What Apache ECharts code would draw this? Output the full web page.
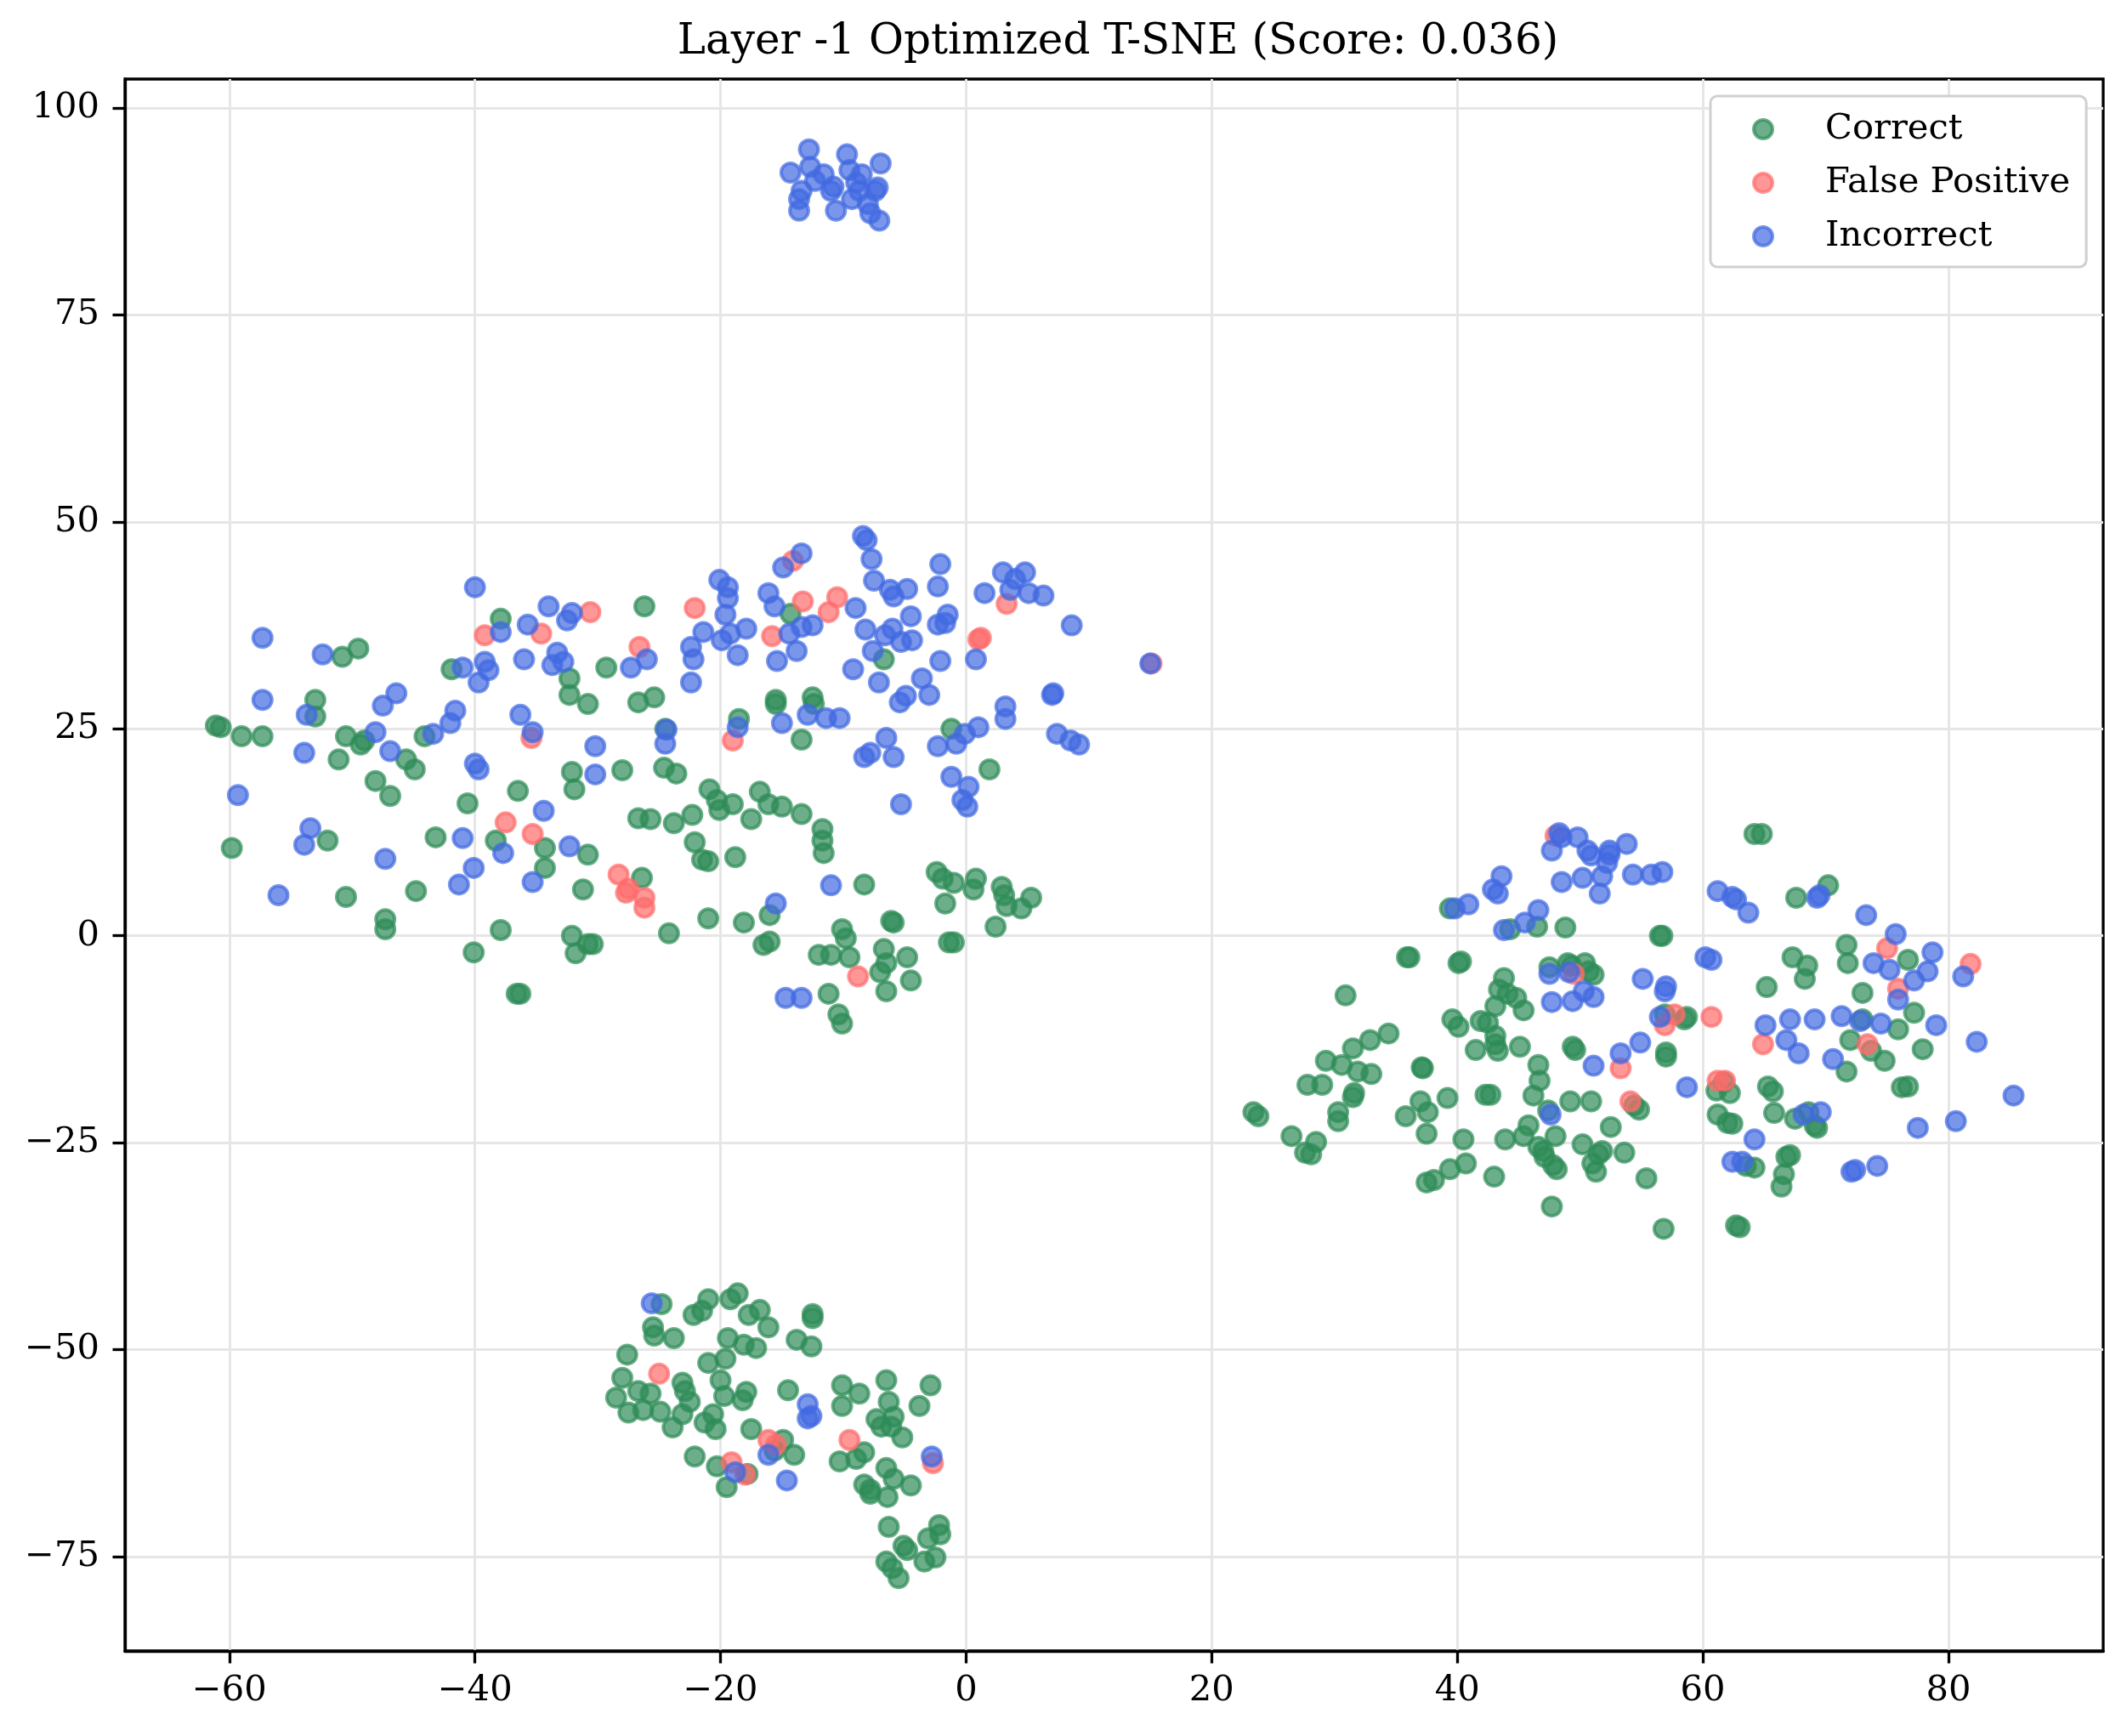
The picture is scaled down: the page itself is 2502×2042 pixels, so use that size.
<!DOCTYPE html>
<html>
<head>
<meta charset="utf-8">
<script src="https://cdn.jsdelivr.net/npm/echarts@6/dist/echarts.min.js"></script>
<style>
  html, body { margin: 0; padding: 0; background: #fff; }
  #chart { width: 2502px; height: 2042px; }
</style>
</head>
<body>
<div id="chart"></div>
<script>
// tick labels
const xTicks = [-60, -40, -20, 0, 20, 40, 60, 80];
const yTicks = [-75, -50, -25, 0, 25, 50, 75, 100];

const seriesNames = ["Correct", "False Positive", "Incorrect"];

// Correct points [x, y]
const correctPoints = [
  [-61.1,25.4],[-60.7,25.2],[-59,24.1],[-57.3,24.1],[-59.8,10.6],[-53,28.5],[-53,26.5],[-50.8,33.7],[-49.5,34.7],
  [-50.5,24.1],[-51.1,21.3],[-49.3,23.1],[-49,23.6],[-52,11.5],[-50.5,4.7],[-48.1,18.7],[-46.9,16.9],[-45.6,21.3],
  [-44.9,20.1],[-47.3,2],[-47.3,0.8],[-44.8,5.4],[-44.1,24.1],[-43.2,11.9],[-41.9,32.2],[-40.6,16],[-40.1,-2],
  [-37.9,38.3],[-38.3,11.5],[-37.9,0.7],[-36.5,17.5],[-36.3,-7],[-36.6,-7],[-34.3,10.6],[-34.3,8.2],[-32.3,31.1],
  [-32.3,29.1],[-32.1,19.8],[-31.9,17.7],[-32.1,0],[-31.8,-2.1],[-31.2,5.6],[-30.8,28],[-30.8,9.8],[-30.4,-1],
  [-30.8,-1],[-29.3,32.4],[-28,20],[-26.2,39.8],[-26.7,28.2],[-26.7,14.2],[-26.4,7],[-25.7,14.1],[-25.4,28.8],
  [-24.5,25],[-24.6,20.3],[-23.6,19.6],[-24.2,0.3],[-23.8,13.6],[-22.3,14.6],[-22.1,11.3],[-21.5,9.2],[-21,9],
  [-21,2.1],[-20.9,17.7],[-20.3,16.4],[-20.1,15.2],[-18.8,9.5],[-18.5,26.2],[-19,15.9],[-18.1,1.6],[-17.5,14.1],
  [-16.8,17.4],[-16.5,-1.1],[-16.1,15.9],[-16,-0.7],[-16,2.5],[-15.5,28.5],[-15.5,28],[-15,15.6],[-14.3,38.9],
  [-13.4,23.7],[-13.4,14.7],[-12.5,28.8],[-12.4,28],[-11.7,12.9],[-11.7,11.5],[-11.6,10],[-12,-2.3],[-11,-2.3],
  [-11.2,-7],[-10.4,-9.5],[-10.1,-10.6],[-10.1,0.8],[-9.8,-0.3],[-9.5,-2.6],[-8.3,6.2],[-6.7,33.4],[-7,-4.4],
  [-6.7,-1.6],[-6.5,-3.3],[-6.5,-6.7],[-5.9,1.6],[-6.1,1.8],[-4.8,-2.6],[-4.5,-5.4],[-2.4,7.7],[-1.9,6.9],
  [-1.7,3.9],[-1.4,-0.8],[-1,-0.8],[-1.2,25],[-1,6.4],[0.8,6.9],[0.6,5.6],[1.9,20.1],[2.4,1.1],[2.9,5.9],
  [3.1,4.9],[3.3,3.6],[4.5,3.3],[5.3,4.6],
  // bottom group
  [-28.5,-55.8],[-28,-53.4],[-27.6,-50.6],[-27.5,-57.6],[-26.7,-55],[-26.3,-57.3],[-25.7,-55.3],[-25.5,-47.3],
  [-24.8,-44.5],[-24.9,-57.5],[-25.4,-48.3],[-23.8,-48.6],[-23.1,-54],[-22.9,-55],[-23.1,-57.8],[-23.9,-59.4],
  [-22.5,-56.3],[-22.1,-62.9],[-22.2,-45.8],[-21.5,-45.3],[-21,-43.9],[-21.3,-58.8],[-20.6,-57.8],[-21,-51.6],
  [-20.4,-59.6],[-20,-53.7],[-19.6,-51.1],[-19.4,-48.6],[-19.7,-55.6],[-20.3,-64.1],[-19.5,-66.6],[-19.2,-43.9],
  [-18.6,-43.2],[-18.1,-49.4],[-18.2,-56.1],[-17.9,-55.1],[-17.8,-65],[-17.7,-45.8],[-17.1,-49.8],[-17.5,-59.6],
  [-16.8,-45.2],[-16.1,-47.3],[-15.6,-62.2],[-14.9,-60.9],[-14.5,-54.9],[-14,-62.7],[-13.8,-48.8],[-12.6,-49.6],
  [-12.5,-45.7],[-12.5,-46.2],[-10.1,-54.3],[-10.1,-56.8],[-10.3,-63.5],[-8.7,-55.3],[-8.95,-63.2],[-8.3,-62.4],
  [-8.3,-66.3],[-7.8,-67.4],[-7.8,-66.9],[-7.3,-58.4],[-6.9,-59.3],[-6.5,-53.7],[-6.3,-56.3],[-6.5,-64.3],
  [-6.4,-67.8],[-6.1,-59.3],[-5.9,-58.1],[-5.9,-65.6],[-6.3,-71.4],[-6.5,-75.6],[-6,-76.4],[-5.5,-77.6],
  [-5.2,-60.6],[-5.1,-73.7],[-4.5,-66.4],[-4.8,-74.2],[-3.8,-56.8],[-3.4,-75.6],[-3.1,-72.8],[-2.9,-54.3],
  [-2.5,-75.1],[-2.2,-71.2],[-2.1,-72.3],
  // right group
  [23.4,-21.3],[23.8,-21.8],[26.5,-24.2],[27.6,-26.2],[28.1,-26.4],[27.8,-18],[28.5,-24.9],[29,-18],[29.3,-15.1],
  [30.3,-21.3],[30.3,-22.4],[30.6,-15.6],[30.9,-7.2],[31.5,-13.6],[31.5,-19.5],[31.6,-19],[31.9,-16.4],[33,-16.7],
  [32.9,-12.6],[34.4,-11.8],[35.9,-2.6],[36.1,-2.6],[35.8,-21.8],[37.1,-15.9],[37.2,-16],[37,-20],[37.5,-23.9],
  [37.5,-29.8],[38.1,-29.5],[37.6,-21.3],[39.2,-19.6],[39.4,3.3],[39.6,-10.1],[40.1,-11],[40.1,-3.3],[40.3,-3.1],
  [39.4,-28.2],[40.5,-24.6],[40.7,-27.5],[41.5,-13.8],[41.9,-10.3],[42.3,-19.2],[42.7,-19.2],[42.5,-10.5],[43,-29.1],
  [43.1,-8.5],[43.1,-12.1],[43.3,-13.9],[43.1,-13.1],[43.4,-6.5],[43.8,-5.1],[44.1,-7],[44.3,0.8],[43.9,-24.6],
  [44.8,-7.5],[45.1,-13.4],[45.4,-9],[45.4,-24.2],[45.8,-22.9],[46.2,-19.3],[46.5,1.1],[46.6,-15.6],[46.7,-17.5],
  [46.6,-25.5],[47,-26],[47.1,-26.7],[47.4,-21.1],[47.5,-3.8],[47.7,-32.7],[47.8,-27.7],[48,-24.2],[48.1,-28.2],
  [48.8,1],[49,-3.3],[49.3,-3.6],[49.2,-20],[49.4,-13.4],[49.6,-13.8],[50.2,-25.2],[50.4,-3.3],[50.7,-4.3],
  [50.9,-20],[51.1,-4.7],[51,-27.5],[51.3,-28.5],[51.5,-26.4],[51.8,-26],[52.5,-23.1],[53.6,-26.2],[54.4,-20.5],
  [54.8,-21],[55.4,-29.3],[56.5,0],[56.7,0],[56.8,-35.4],[56.9,-9.5],[57,-14.1],[57,-14.6],[58.5,-10.1],[58.7,-9.8],
  [61.1,-18.7],[61.2,-21.6],[61.7,-17.7],[62,-22.6],[62.2,-19],[62.4,-22.7],[62.7,-35],[63,-35.2],[63.5,-27.8],
  [64.2,12.3],[64.8,12.3],[64.2,-28],[65.2,-6.2],[65.3,-18.2],[65.7,-18.8],[65.8,-21.4],[66.6,-28.8],[66.4,-30.3],
  [66.8,-26.7],[67.1,-26.5],[67.3,-2.6],[67.6,4.6],[67.5,-22.1],[68.3,-5.2],[68.5,-3.6],[68.6,-21.3],[69.1,-22.9],
  [69.3,-23.2],[70.2,6.1],[71.7,-1.1],[71.8,-3.3],[71.7,-16.4],[72,-12.6],[73,-6.9],[73,-10.1],[73.7,-13.9],
  [74.8,-15.1],[75.9,-11.3],[76.2,-18.3],[76.7,-18.2],[76.7,-2.9],[77.2,-9.3],[77.9,-13.7]
];

// False Positive points [x, y]
const falsePositivePoints = [
  [-39.2,36.3],[-37.5,13.7],[-35.4,23.9],[-35.3,12.3],[-34.6,36.5],[-30.6,39.1],[-28.3,7.4],[-27.7,5.2],[-27.5,5.7],
  [-26.2,4.6],[-26.6,34.9],[-26.2,3.4],[-22.1,39.6],[-19,23.6],[-15.8,36.2],[-14.1,45.3],[-13.3,40.4],[-11.2,39.1],
  [-10.5,40.9],[1,35.8],[1.2,36],[3.3,40.1],[15.1,32.9],[-8.8,-4.9],
  [-25,-52.9],[-19.1,-63.6],[-16.1,-60.9],[-15.5,-61.5],[-9.5,-60.9],[-2.7,-63.7],[-18,-65.1],
  [48,12.1],[49.5,-4.6],[53.3,-16],[54.1,-20],[56.9,-10.8],[57.7,-9.5],[60.7,-9.8],[61.2,-17.5],[61.8,-17.5],
  [64.9,-13.1],[73.4,-13.1],[75,-1.5],[75.9,-6.4],[81.8,-3.4]
];

// Incorrect points [x, y]
const incorrectPoints = [
  // top group
  [-14.3,92.2],[-13.4,90],[-12.8,95],[-12.7,92.9],[-13.6,89],[-13.6,87.6],[-12.3,91.2],[-11.6,92],[-11,90],
  [-10.6,87.6],[-9.7,94.4],[-9.5,92.5],[-8.95,91],[-9.3,89],[-8.5,92],[-8.7,90],[-7.8,87.3],[-6.96,93.3],
  [-7.2,90.4],[-7.4,90],[-7.07,86.4],[-8,88.4],[-10.8,90.5],
  // left group
  [-57.3,36],[-57.3,28.5],[-59.3,17],[-56,4.9],[-52.4,34],[-53.7,26.7],[-53.9,22.1],[-53.4,13],[-53.9,11],
  [-47.5,27.8],[-46.4,29.3],[-48.1,24.6],[-46.9,22.3],[-47.3,9.3],[-43.4,24.4],[-42,25.7],[-41.6,27.2],[-41,32.4],
  [-40,42.1],[-40,20.8],[-39.7,20.1],[-39.7,30.6],[-39.2,33.1],[-38.9,32.1],[-37.9,36.7],[-41,11.8],[-41.3,6.2],
  [-40.1,8.2],[-37.7,10],[-36.3,26.7],[-36,33.4],[-35.7,37.6],[-35.3,24.6],[-35.3,6.5],[-34,39.8],[-33.7,32.7],
  [-33.3,34.2],[-32.8,33.1],[-32.5,38.1],[-32.1,39],[-32.3,10.8],[-34.4,15.1],[-30.2,22.9],[-30.2,19.5],[-27.3,32.4],
  [-26,33.4],[-24.5,23.2],[-24.4,24.9],[-22.4,30.6],[-22.4,34.9],[-22.2,33.4],[-21.4,36.7],[-20.1,43],[-19.4,42.1],
  [-19.6,38.8],[-19.4,40.8],[-19.9,35.7],[-19.2,36.5],[-18.6,33.9],[-18.6,25.2],[-17.9,37.1],[-16.1,41.4],[-15.6,39.8],
  [-15.4,33.2],[-14.9,44.5],[-15,25.7],[-14.4,36.5],[-13.8,34.4],[-13.4,46.2],[-13.4,37.3],[-12.9,26.7],[-12.5,37.5],
  [-11.4,26.3],[-10.3,26.3],[-9.2,32.2],[-9,39.6],[-8.4,48.3],[-8.1,47.8],[-8.3,21.6],[-7.8,22.1],[-7.7,45.5],
  [-7.5,42.9],[-8.2,37],[-7.6,34.4],[-7.1,30.6],[-6.5,23.9],[-6.2,41.8],[-6,37.1],[-5.9,21.6],[-6.6,36.3],[-5.9,41],
  [-5.4,28.2],[-5.3,35.5],[-4.9,29],[-4.8,41.9],[-4.5,38.6],[-5.3,15.9],[-4.4,35.7],[-3.6,31.1],[-3,29.1],[-2.3,42.2],
  [-2.1,44.9],[-2.3,37.6],[-2.3,22.9],[-2.1,33.2],[-1.5,38.8],[-1.7,37.8],[-1.2,19.2],[-0.8,23.2],[-0.1,24.4],
  [0.2,18],[-0.3,16.4],[0.1,15.6],[1,25.2],[0.8,33.4],[1.5,41.4],[3,43.9],[3.2,26.2],[3.2,27.7],[3.6,41.8],[4,43.1],
  [4.8,43.9],[5.1,41.4],[6.3,41.1],[7,29.1],[7.1,29.3],[7.4,24.4],[8.5,23.6],[9.2,23.1],[8.6,37.5],[15,32.9],
  [-11,6.1],[-15.5,3.9],[-14.7,-7.5],[-13.4,-7.5],
  // bottom group
  [-25.6,-44.4],[-12.9,-56.6],[-12.9,-58.3],[-12.6,-58],[-16.1,-62.7],[-18.8,-64.8],[-14.6,-65.8],[-2.8,-62.9],
  // right group
  [39.8,3.3],[40.9,3.8],[42.9,5.6],[43.3,5.1],[43.6,7.2],[43.8,0.7],[45.5,1.6],[46.6,3.1],[47.5,-4.6],[47.7,10.3],
  [48.3,12.4],[48.5,11.9],[48.5,6.5],[47.7,-8],[47.6,-21.6],[49.1,-4.4],[49.4,-7.9],[49.8,11.9],[50.2,7],[50.3,-6.7],
  [50.6,10.3],[50.9,9.7],[51.1,-7.4],[51.1,-15.7],[51.6,5.1],[51.8,7.2],[52.2,8.8],[52.4,9.8],[52.4,10.3],[53.3,-14.2],
  [53.8,11.1],[54.3,7.4],[55.1,-5.2],[54.9,-12.9],[55.8,7.4],[56.5,-9.8],[56.7,7.7],[57,-6.1],[56.9,-6.7],[58.7,-18.3],
  [60.2,-2.6],[60.7,-2.9],[61.2,5.4],[62.4,4.7],[62.7,4.4],[63.7,2.8],[64.2,-24.6],[62.4,-27.3],[63.2,-27.3],
  [65.1,-10.8],[66.8,-12.6],[67.1,-10.1],[67.8,-14.2],[68.2,-21.6],[69.1,-10.1],[69.3,4.6],[69.5,4.9],[69.6,-21.3],
  [70.6,-14.9],[71.3,-9.7],[72.1,-28.5],[72.4,-28.3],[72.8,-10.3],[73.3,2.5],[73.9,-3.3],[74.2,-27.8],[74.5,-10.6],
  [75.2,-4.1],[75.7,0.2],[75.9,-7.7],[77.2,-5.4],[77.5,-23.2],[78.3,-4.3],[78.7,-2],[79,-10.8],[80.6,-22.4],
  [81.2,-4.9],[85.3,-19.3],[82.3,-12.8]
];

const colors = ["#2e8b57", "#ff6b6b", "#4169e1"];
const font = "DejaVu Serif";
const fmt = (v) => (v < 0 ? "\u2212" + Math.abs(v) : String(v));

const chart = echarts.init(document.getElementById("chart"), null, { renderer: "canvas" });

const makeSeries = (name, data, color) => ({
  name,
  type: "scatter",
  data,
  symbol: "circle",
  symbolSize: 22,
  itemStyle: { color, opacity: 0.7, borderColor: color, borderWidth: 4 },
  emphasis: { disabled: true },
  animation: false,
});

const axisCommon = {
  type: "value",
  axisLine: { show: true, onZero: false, lineStyle: { color: "#000", width: 3.3 } },
  axisTick: { show: true, length: 14.5, lineStyle: { color: "#000", width: 3.3 } },
  splitLine: { show: true, lineStyle: { color: "#e6e6e6", width: 3 } },
};

chart.setOption({
  backgroundColor: "#fff",
  animation: false,
  title: {
    text: "Layer -1 Optimized T-SNE (Score: 0.036)",
    left: 1310,
    top: 20,
    textAlign: "center",
    textStyle: { fontFamily: font, fontSize: 50, fontWeight: "normal", color: "#000" },
  },
  legend: {
    data: seriesNames.map((n, i) => ({
      name: n,
      icon: "circle",
      itemStyle: { color: colors[i], opacity: 0.7, borderColor: colors[i], borderWidth: 4 },
    })),
    orient: "vertical",
    left: 2012,
    top: 113,
    itemWidth: 22,
    itemHeight: 22,
    itemGap: 15,
    padding: [15, 19, 12, 49],
    backgroundColor: "#fff",
    borderColor: "#d0d0d0",
    borderWidth: 3,
    borderRadius: 8,
    textStyle: { fontFamily: font, fontSize: 41.7, color: "#000", lineHeight: 48, padding: [0, 0, 0, 57] },
  },
  grid: {
    left: 147,
    top: 93,
    width: 2327,
    height: 1849,
    show: true,
    borderColor: "#000",
    borderWidth: 3.3,
    containLabel: false,
  },
  xAxis: {
    ...axisCommon,
    min: -68.5,
    max: 92.6,
    axisTick: { ...axisCommon.axisTick, customValues: xTicks },
    axisLabel: {
      customValues: xTicks,
      formatter: fmt,
      margin: 26,
      fontFamily: font,
      fontSize: 41.7,
      color: "#000",
    },
  },
  yAxis: {
    ...axisCommon,
    min: -86.4,
    max: 103.5,
    axisTick: { ...axisCommon.axisTick, customValues: yTicks },
    axisLabel: {
      customValues: yTicks,
      formatter: fmt,
      margin: 30,
      fontFamily: font,
      fontSize: 41.7,
      color: "#000",
    },
  },
  series: [
    makeSeries(seriesNames[0], correctPoints, colors[0]),
    makeSeries(seriesNames[1], falsePositivePoints, colors[1]),
    makeSeries(seriesNames[2], incorrectPoints, colors[2]),
  ],
});

window.addEventListener("resize", () => chart.resize());
</script>
</body>
</html>
